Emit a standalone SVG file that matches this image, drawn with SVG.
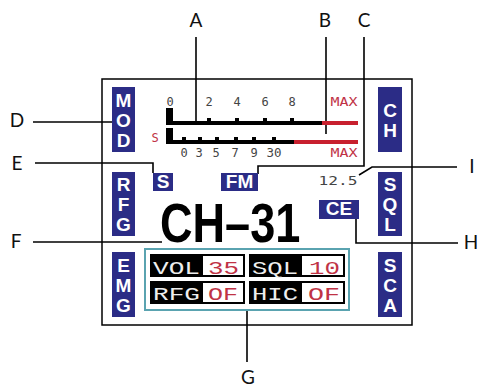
<svg xmlns="http://www.w3.org/2000/svg" width="480" height="389" viewBox="0 0 480 389">
<style>
.lbl{font-family:"Lato","Noto Sans",sans-serif;font-size:19px;fill:#111;text-anchor:middle}
.box{fill:#2b2c86}
.bl{font-family:"Liberation Sans",Arial,sans-serif;font-weight:bold;font-size:19px;fill:#fff;text-anchor:middle}
.vt{font-family:"Liberation Sans",Arial,sans-serif;font-weight:bold;font-size:19px;fill:#fff;text-anchor:middle;writing-mode:vertical-rl;text-orientation:upright;letter-spacing:-1px}
.dig{font-family:"DejaVu Sans Mono","Liberation Mono",monospace;font-size:12px;fill:#444;text-anchor:middle}
.red{fill:#c03245}
.ln{fill:none;stroke:#000;stroke-width:1.6}
.lcd{font-family:"Liberation Mono","DejaVu Sans Mono",monospace;font-size:19px}
</style>
<rect width="480" height="389" fill="#fff"/>
<rect x="102" y="79" width="310" height="246" fill="none" stroke="#000" stroke-width="1.5"/>

<g id="connectors">
<path class="ln" d="M196 37V122"/>
<path class="ln" d="M326 37V134"/>
<path class="ln" d="M364 37V166H258V174"/>
<path class="ln" d="M33 122H112"/>
<path class="ln" d="M35 163H153V173"/>
<path class="ln" d="M33 242H162"/>
<path class="ln" d="M247 310V362"/>
<path class="ln" d="M356 218V243H458"/>
<path class="ln" d="M359 175L372 167H457"/>
</g>

<g id="labels">
<text class="lbl" x="196" y="27">A</text>
<text class="lbl" x="325" y="27">B</text>
<text class="lbl" x="364" y="27">C</text>
<text class="lbl" x="17" y="127">D</text>
<text class="lbl" x="17" y="170">E</text>
<text class="lbl" x="16" y="248">F</text>
<text class="lbl" x="248" y="384">G</text>
<text class="lbl" x="471" y="249">H</text>
<text class="lbl" x="472" y="173">I</text>
</g>

<g id="MOD"><rect class="box" x="112" y="87" width="23" height="65"/>
<text class="vt" x="123.5" y="119.5">MOD</text></g>
<g id="RFG"><rect class="box" x="112" y="172" width="23" height="64"/>
<text class="vt" x="123.5" y="204">RFG</text></g>
<g id="EMG"><rect class="box" x="112" y="252" width="23" height="65"/>
<text class="vt" x="123.5" y="284.5">EMG</text></g>
<g id="CH"><rect class="box" x="378" y="87" width="24" height="65"/>
<text class="vt" x="390" y="119.5">CH</text></g>
<g id="SQL"><rect class="box" x="378" y="172" width="24" height="64"/>
<text class="vt" x="390" y="204">SQL</text></g>
<g id="SCA"><rect class="box" x="378" y="252" width="24" height="65"/>
<text class="vt" x="390" y="284.5">SCA</text></g>

<g id="meter">
<text class="dig" x="170" y="106">0</text>
<text class="dig" x="209" y="106">2</text>
<text class="dig" x="237" y="106">4</text>
<text class="dig" x="265" y="106">6</text>
<text class="dig" x="292" y="106">8</text>
<text class="dig red" x="344" y="106" font-size="10" textLength="27" lengthAdjust="spacingAndGlyphs">MAX</text>
<rect x="166" y="108" width="7" height="17" fill="#000"/>
<rect x="166" y="121" width="156" height="4" fill="#000"/>
<rect x="322" y="121" width="36" height="4" fill="#c8202e"/>
<rect x="207" y="118" width="4" height="3" fill="#000"/>
<rect x="235" y="118" width="4" height="3" fill="#000"/>
<rect x="263" y="118" width="4" height="3" fill="#000"/>
<rect x="290" y="118" width="4" height="3" fill="#000"/>
<text class="dig red" x="155" y="142">S</text>
<rect x="166" y="128" width="7" height="16" fill="#000"/>
<rect x="166" y="140" width="128" height="4" fill="#000"/>
<rect x="294" y="140" width="64" height="4" fill="#c8202e"/>
<rect x="182" y="137" width="4" height="3" fill="#000"/>
<rect x="198" y="137" width="4" height="3" fill="#000"/>
<rect x="215" y="137" width="4" height="3" fill="#000"/>
<rect x="234" y="137" width="4" height="3" fill="#000"/>
<rect x="252" y="137" width="4" height="3" fill="#000"/>
<rect x="272" y="137" width="4" height="3" fill="#000"/>
<text class="dig" x="184" y="157">0</text>
<text class="dig" x="199" y="157">3</text>
<text class="dig" x="216" y="157">5</text>
<text class="dig" x="235" y="157">7</text>
<text class="dig" x="254" y="157">9</text>
<text class="dig" x="274" y="157" textLength="15" lengthAdjust="spacingAndGlyphs">30</text>
<text class="dig red" x="344" y="157" font-size="10" textLength="27" lengthAdjust="spacingAndGlyphs">MAX</text>
</g>

<g id="S"><rect class="box" x="153" y="173" width="20" height="18"/><text class="bl" x="163" y="188" font-size="16">S</text></g>
<g id="FM"><rect class="box" x="221" y="173" width="37" height="18"/><text class="bl" x="239.5" y="188" font-size="16">FM</text></g>
<g id="freq"><text class="dig" x="338" y="185" font-size="13" fill="#222" textLength="39" lengthAdjust="spacingAndGlyphs">12.5</text></g>
<g id="CE"><rect class="box" x="319" y="200" width="40" height="19"/><text class="bl" x="339" y="215" font-size="16">CE</text></g>
<g id="channel"><text transform="translate(160 242) scale(0.82 1)" font-family="Liberation Sans,Arial,sans-serif" font-weight="bold" font-size="55" fill="#000">CH–31</text></g>

<g id="table">
<rect x="145" y="249" width="204" height="61" fill="#fff" stroke="#5aa3b0" stroke-width="2"/>
<rect x="150" y="254" width="95" height="23" fill="#000"/>
<rect x="249" y="254" width="96" height="23" fill="#000"/>
<rect x="150" y="281" width="95" height="23" fill="#000"/>
<rect x="249" y="281" width="96" height="23" fill="#000"/>
<rect x="203" y="256" width="40" height="19" fill="#fff"/>
<rect x="302" y="256" width="41" height="19" fill="#fff"/>
<rect x="203" y="283" width="40" height="19" fill="#fff"/>
<rect x="302" y="283" width="41" height="19" fill="#fff"/>
<text class="lcd" x="153" y="274" fill="#eee" textLength="47" lengthAdjust="spacingAndGlyphs">VOL</text>
<text class="lcd red" x="208" y="274" textLength="31" lengthAdjust="spacingAndGlyphs">35</text>
<text class="lcd" x="252" y="274" fill="#eee" textLength="46" lengthAdjust="spacingAndGlyphs">SQL</text>
<text class="lcd red" x="309" y="274" textLength="31" lengthAdjust="spacingAndGlyphs">10</text>
<text class="lcd" x="153" y="300" fill="#eee" textLength="47" lengthAdjust="spacingAndGlyphs">RFG</text>
<text class="lcd red" x="208" y="300" textLength="30" lengthAdjust="spacingAndGlyphs">OF</text>
<text class="lcd" x="252" y="300" fill="#eee" textLength="46" lengthAdjust="spacingAndGlyphs">HIC</text>
<text class="lcd red" x="308" y="300" textLength="32" lengthAdjust="spacingAndGlyphs">OF</text>
</g>
</svg>
